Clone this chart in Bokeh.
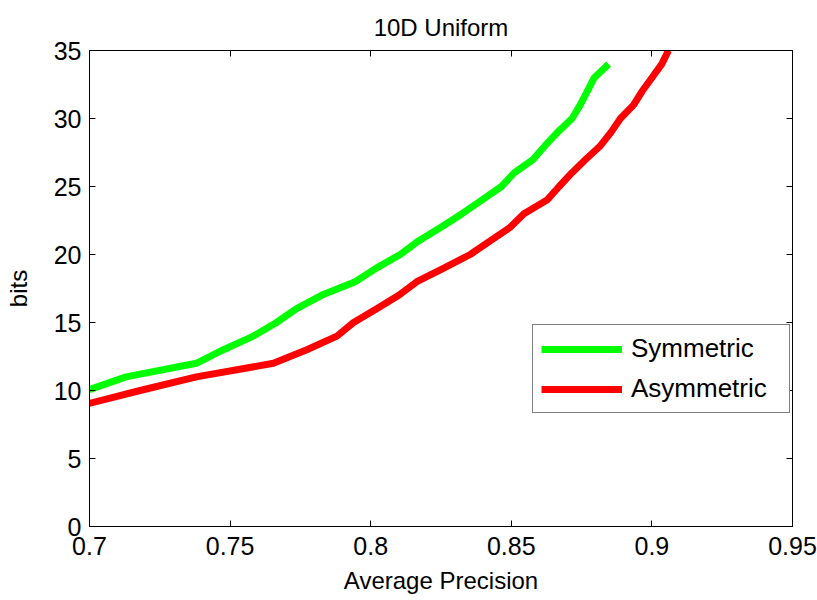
from bokeh.plotting import figure
from bokeh.models import Range1d, FixedTicker, LinearAxis, Legend, LegendItem
from bokeh.embed import file_html
from bokeh.resources import INLINE

# Data
sym_ap = [0.699, 0.713, 0.738, 0.7476, 0.7583, 0.7665, 0.7735, 0.7825, 0.7945, 0.802,
          0.8105, 0.817, 0.825, 0.8325, 0.8395, 0.8465, 0.851, 0.8578, 0.862, 0.8665,
          0.8716, 0.8745, 0.877, 0.8795, 0.8846]
sym_bits = [10, 11, 12, 13, 14, 15, 16, 17, 18, 19, 20, 21, 22, 23, 24, 25, 26, 27, 28, 29,
            30, 31, 32, 33, 34]
asym_ap = [0.699, 0.718, 0.738, 0.7654, 0.7773, 0.788, 0.7939, 0.802, 0.810, 0.8164,
           0.826, 0.8354, 0.8425, 0.8496, 0.8545, 0.8627, 0.867, 0.8715, 0.8765, 0.8817,
           0.8855, 0.8888, 0.8935, 0.8965, 0.9, 0.9035, 0.9059]
asym_bits = [9, 10, 11, 12, 13, 14, 15, 16, 17, 18, 19, 20, 21, 22, 23, 24, 25, 26, 27, 28,
             29, 30, 31, 32, 33, 34, 35]
x_ticks = [0.7, 0.75, 0.8, 0.85, 0.9, 0.95]
x_tick_labels = ["0.7", "0.75", "0.8", "0.85", "0.9", "0.95"]
y_ticks = [0, 5, 10, 15, 20, 25, 30, 35]

FONT = "Liberation Sans"

p = figure(width=817, height=600, output_backend="svg", toolbar_location=None,
           x_range=Range1d(0.7, 0.95), y_range=Range1d(0, 35),
           min_border_left=89, min_border_right=25, min_border_top=50, min_border_bottom=74,
           x_axis_label="Average Precision", y_axis_label="bits", title="10D Uniform")
p.title.align = "center"
p.title.text_font = FONT
p.title.text_font_size = "24px"
p.title.text_font_style = "normal"
p.title.text_color = "black"
p.title.standoff = 19
p.grid.visible = False
p.outline_line_color = "black"
p.outline_line_width = 1

for ax in (p.xaxis[0], p.yaxis[0]):
    ax.major_tick_in = 6
    ax.major_tick_out = 0
    ax.minor_tick_line_color = None
    ax.axis_line_color = "black"
    ax.major_tick_line_color = "black"
    ax.major_label_text_font = FONT
    ax.major_label_text_font_size = "25px"
    ax.major_label_text_color = "black"
    ax.axis_label_text_font = FONT
    ax.axis_label_text_font_size = "24px"
    ax.axis_label_text_font_style = "normal"
    ax.axis_label_text_color = "black"

p.xaxis[0].ticker = FixedTicker(ticks=x_ticks)
p.xaxis[0].major_label_overrides = {v: s for v, s in zip(x_ticks, x_tick_labels)}
p.xaxis[0].major_label_standoff = 10
p.xaxis[0].axis_label_standoff = 9
p.yaxis[0].ticker = FixedTicker(ticks=y_ticks)
p.yaxis[0].major_label_standoff = 8
p.yaxis[0].axis_label_standoff = 19

right = LinearAxis(ticker=FixedTicker(ticks=y_ticks), major_tick_in=6, major_tick_out=0,
                   minor_tick_line_color=None, major_label_text_font_size="0px",
                   major_label_standoff=0, axis_line_color="black")
top = LinearAxis(ticker=FixedTicker(ticks=x_ticks), major_tick_in=6, major_tick_out=0,
                 minor_tick_line_color=None, major_label_text_font_size="0px",
                 major_label_standoff=0, axis_line_color="black")
p.add_layout(right, "right")
p.add_layout(top, "above")

g = p.line(sym_ap, sym_bits, line_color="#00ff00", line_width=7)
r = p.line(asym_ap, asym_bits, line_color="#ff0000", line_width=7)

legend = Legend(items=[LegendItem(label="Symmetric", renderers=[g]),
                       LegendItem(label="Asymmetric", renderers=[r])],
                location=(443, 113))
legend.label_text_font = FONT
legend.label_text_font_size = "26px"
legend.label_text_color = "black"
legend.glyph_width = 81
legend.glyph_height = 24
legend.label_height = 24
legend.label_width = 150
legend.label_standoff = 9
legend.spacing = 9
legend.padding = 8
legend.margin = 0
legend.border_line_color = "black"
legend.border_line_width = 1
legend.background_fill_alpha = 1
p.add_layout(legend, "center")

open("out.html", "w").write(file_html(p, INLINE))
